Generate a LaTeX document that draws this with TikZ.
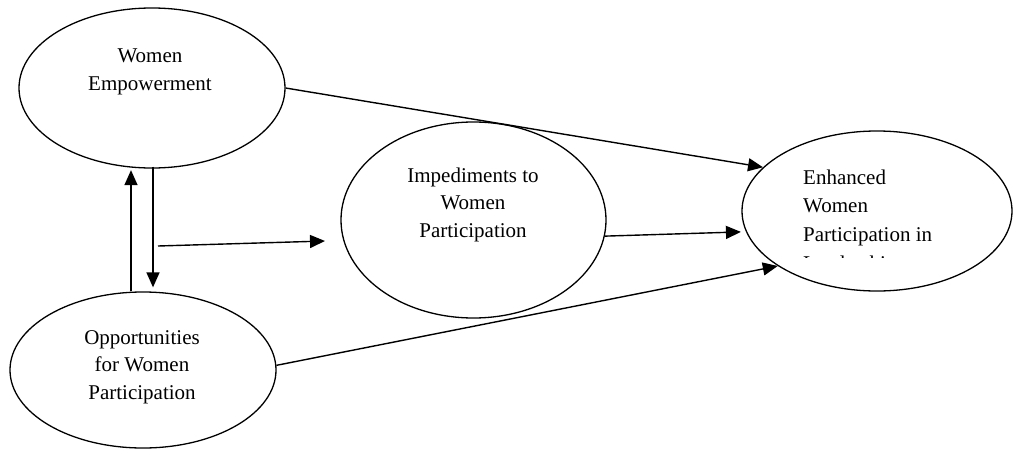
\documentclass[tikz,border=0pt]{standalone}
\usepackage{fontspec}
\setmainfont{Liberation Serif}
\usetikzlibrary{arrows.meta,shapes.geometric}
\begin{document}
\begin{tikzpicture}[x=1pt,y=-1pt,
  oval/.style={draw,ellipse,line width=1.3pt,inner sep=0pt},
  lbl/.style={inner sep=0pt,font=\fontsize{21}{27.5}\selectfont},
  arr/.style={line width=1.4pt,-{Triangle[length=15pt,width=13pt]}}]
\useasboundingbox (0,0) rectangle (1013,450);
\node[oval,minimum width=266pt,minimum height=160pt] (we) at (152,88) {};
\node[oval,minimum width=265pt,minimum height=196pt] (imp) at (473.5,220) {};
\node[oval,minimum width=270pt,minimum height=160pt] (enh) at (877,211) {};
\node[oval,minimum width=266pt,minimum height=156pt] (opp) at (143,370) {};
% texts
\node[lbl,anchor=north,align=center] (wet) at (150,49) {Women\\Empowerment};
\node[lbl,anchor=north,align=center] (impt) at (473,167.7) {Impediments to\\Women\\Participation};
\node[lbl,anchor=north,align=center] (oppt) at (142,330) {Opportunities\\for Women\\Participation};
\begin{scope}
\clip (790,150) rectangle (1000,257.5);
\node[inner sep=0pt,font=\fontsize{21}{28.7}\selectfont,anchor=north west,align=left] (enht) at (803,169.5) {Enhanced\\Women\\Participation in\\Leadership};
\end{scope}
% connectors
\coordinate (upx) at (131,0);
\coordinate (dnx) at (153,0);
\coordinate (h1) at (158,246);
\coordinate (h2) at (325,241);
\draw[arr] (we.0.5) -- (enh.159);
\draw[arr,shorten >=5pt] (imp.-7) -- (enh.189);
\draw[arr] (opp.2.6) -- (enh.209);
\draw[arr,shorten >=1.5pt] (opp.north -| upx) -- (we.south -| upx);
\draw[arr,shorten <=-2pt,shorten >=4pt] (we.south -| dnx) -- (opp.north -| dnx);
\draw[arr] (h1) -- (h2);
\end{tikzpicture}
\end{document}
